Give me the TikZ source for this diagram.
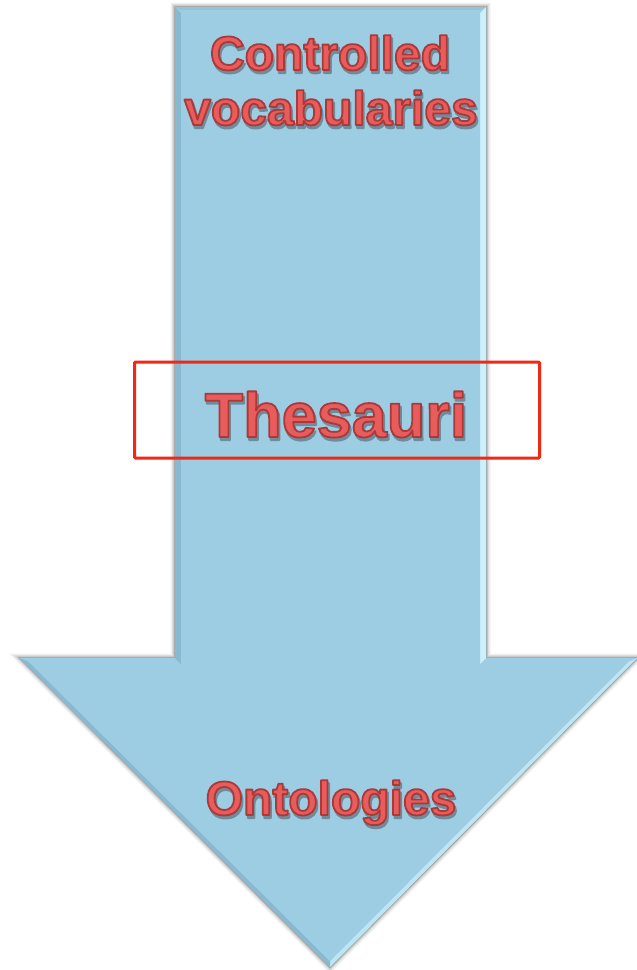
\documentclass[tikz,border=0pt]{standalone}
\usepackage{fontspec}
\setmainfont{Liberation Sans}
\usetikzlibrary{calc}
\definecolor{arrowblue}{RGB}{157,205,226}
\definecolor{arrowhi}{RGB}{205,240,250}
\definecolor{arrowlo}{RGB}{135,185,208}
\definecolor{txtfill}{RGB}{232,92,92}
\definecolor{txtshadow}{RGB}{112,140,155}
\definecolor{boxred}{RGB}{240,40,20}
\newcommand\glossy[1]{%
  \leavevmode
  \rlap{\kern1.5pt\raisebox{-3pt}{\color{txtshadow}\special{pdf:literal direct 2 Tr 2 w 1 j 0.44 0.55 0.61 RG}#1\special{pdf:literal direct 0 Tr 1 w 0 j}}}%
  {\color{txtfill}\special{pdf:literal direct 2 Tr 1.8 w 1 j 0.68 0.22 0.22 RG}#1\special{pdf:literal direct 0 Tr 1 w 0 j}}}
\tikzset{
  label text/.style={inner sep=0pt, anchor=base, font=\bfseries\fontsize{48}{55}\selectfont},
  big text/.style={inner sep=0pt, anchor=base, font=\bfseries\fontsize{63}{70}\selectfont},
  frame box/.style={draw=boxred, line width=3pt, rounded corners=1pt, minimum width=405pt, minimum height=96pt, inner sep=0pt},
}
\begin{document}
\begin{tikzpicture}[x=1pt,y=-1pt]
\useasboundingbox (0,0) rectangle (637,970);
\fill[white] (0,0) rectangle (637,970);
% arrow corners
\coordinate (A) at (175,7);
\coordinate (B) at (486,7);
\coordinate (C) at (486,658);
\coordinate (D) at (637,658);
\coordinate (E) at (330,967);
\coordinate (F) at (20,658);
\coordinate (G) at (175,658);
% soft shadow
\foreach \w/\o in {9/0.06,6/0.08,3.5/0.12,1.5/0.18}{
  \draw[black, opacity=\o, line width=\w pt, line join=miter, shift={(-2,2)}]
    (A) -- (B) -- (C) -- (D) -- (E) -- (F) -- (G) -- cycle;
}
% body
\fill[arrowblue] (A) -- (B) -- (C) -- (D) -- (E) -- (F) -- (G) -- cycle;
% bevel highlights
\fill[arrowhi] (B) -- (C) -- ($(C)+(-6,6)$) -- ($(B)+(-6,6)$) -- cycle;
\fill[arrowhi!70!arrowblue] (D) -- (E) -- ($(E)+(0,-6)$) -- ($(D)+(-9,4)$) -- cycle;
\fill[arrowlo] (A) -- (G) -- ($(G)+(6,6)$) -- ($(A)+(6,6)$) -- cycle;
\fill[arrowblue!85!black, opacity=0.35] (A) -- (B) -- ($(B)+(-6,3)$) -- ($(A)+(6,3)$) -- cycle;
\fill[arrowlo] (F) -- (E) -- ($(E)+(0,-6)$) -- ($(F)+(9,4)$) -- cycle;
\fill[arrowblue] ($(A)+(6,3)$) -- ($(B)+(-6,3)$) -- ($(C)+(-6,6)$) -- ($(D)+(-9,4)$) -- ($(E)+(0,-6)$) -- ($(F)+(9,4)$) -- ($(G)+(6,6)$) -- cycle;
% texts
\node[label text] (cv1) at (330,70) {\glossy{Controlled}};
\node[label text] (cv2) at (331,125) {\glossy{vocabularies}};
\node[big text] (th) at (336,437) {\glossy{Thesauri}};
\node[label text] (on) at (331,815) {\glossy{Ontologies}};
\node[frame box] (box) at (337,410) {};
\end{tikzpicture}
\end{document}
